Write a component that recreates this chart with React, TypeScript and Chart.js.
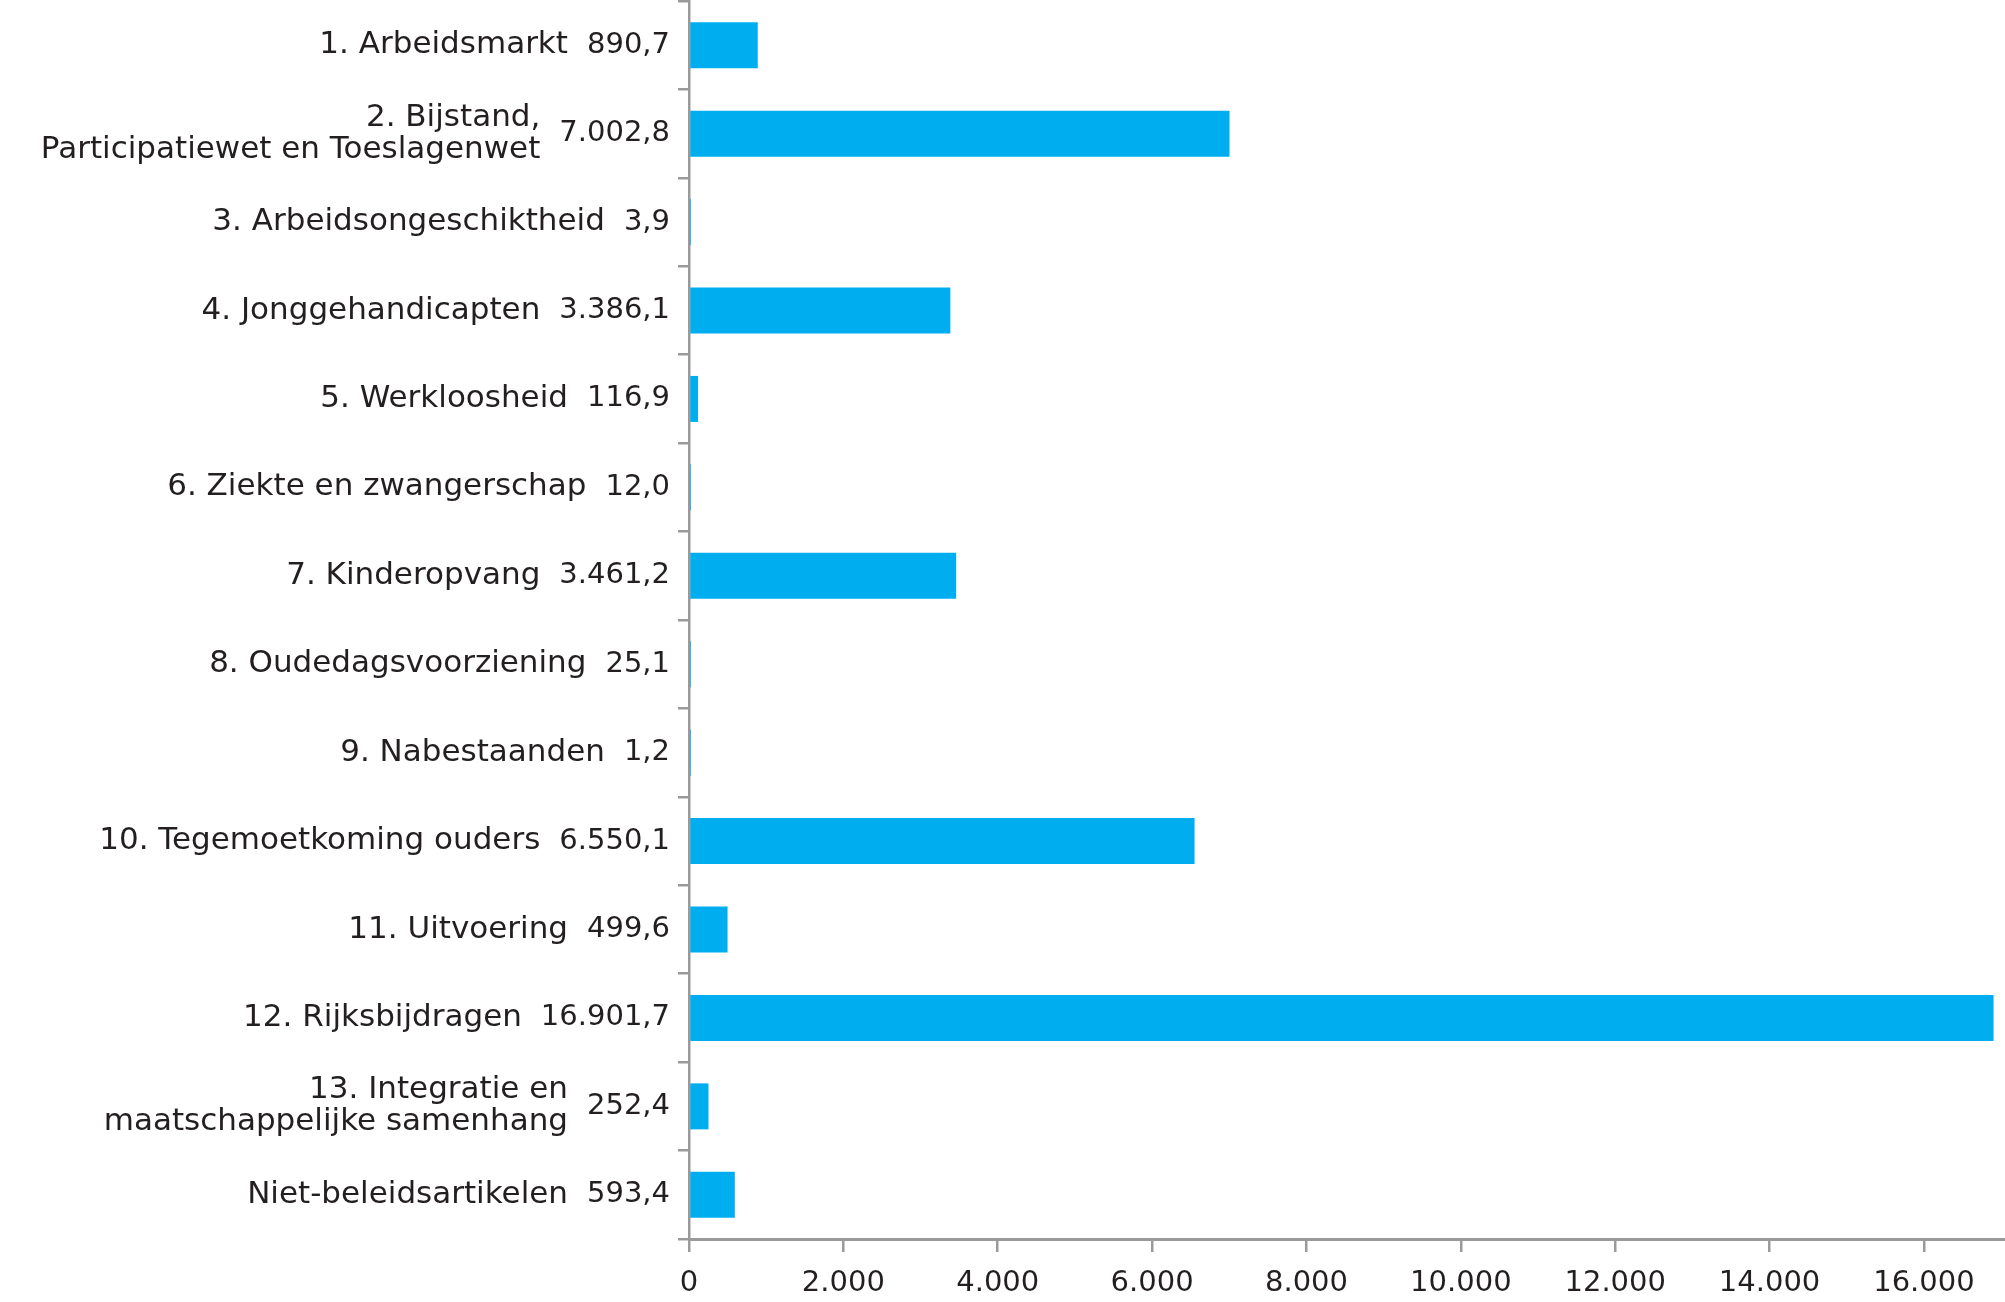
import React, { useEffect, useRef } from "react";
import { Chart, registerables } from "chart.js";

Chart.register(...registerables);

const categories: string[][] = [
  ["1. Arbeidsmarkt"],
  ["2. Bijstand,", "Participatiewet en Toeslagenwet"],
  ["3. Arbeidsongeschiktheid"],
  ["4. Jonggehandicapten"],
  ["5. Werkloosheid"],
  ["6. Ziekte en zwangerschap"],
  ["7. Kinderopvang"],
  ["8. Oudedagsvoorziening"],
  ["9. Nabestaanden"],
  ["10. Tegemoetkoming ouders"],
  ["11. Uitvoering"],
  ["12. Rijksbijdragen"],
  ["13. Integratie en", "maatschappelijke samenhang"],
  ["Niet-beleidsartikelen"],
];

const values: number[] = [
  890.7, 7002.8, 3.9, 3386.1, 116.9, 12.0, 3461.2, 25.1, 1.2, 6550.1, 499.6,
  16901.7, 252.4, 593.4,
];

const xTicks: number[] = [0, 2000, 4000, 6000, 8000, 10000, 12000, 14000, 16000];
const X_MAX = 17050;

const BAR_COLOR = "#00AEEF";
const TEXT_COLOR = "#231F20";
const AXIS_COLOR = "#9A9A9C";
const FONT = "'DejaVu Sans', sans-serif";

function thousands(intStr: string): string {
  let out = "";
  for (let i = 0; i < intStr.length; i++) {
    const fromEnd = intStr.length - i;
    out += intStr[i];
    if (fromEnd > 1 && (fromEnd - 1) % 3 === 0) out += ".";
  }
  return out;
}

function fmtValue(v: number): string {
  const [i, d] = v.toFixed(1).split(".");
  return thousands(i) + "," + d;
}

const labelPlugin = {
  id: "catLabels",
  afterDraw(chart: any) {
    const ctx = chart.ctx as CanvasRenderingContext2D;
    const y = chart.scales.y;
    const valueRight = chart.chartArea.left - 19;
    ctx.save();
    ctx.fillStyle = TEXT_COLOR;
    ctx.textBaseline = "middle";
    ctx.textAlign = "right";
    categories.forEach((lines, i) => {
      const cy = y.getPixelForValue(i);
      const vText = fmtValue(values[i]);
      ctx.font = `29px ${FONT}`;
      ctx.fillText(vText, valueRight, cy);
      const vw = ctx.measureText(vText).width;
      ctx.font = `31px ${FONT}`;
      const nameRight = valueRight - vw - 19;
      const lh = 32;
      lines.forEach((ln, j) => {
        ctx.fillText(ln, nameRight, cy + (j - (lines.length - 1) / 2) * lh);
      });
    });
    ctx.restore();
  },
};

export default function App() {
  const ref = useRef<HTMLCanvasElement | null>(null);

  useEffect(() => {
    if (!ref.current) return;
    const chart = new Chart(ref.current, {
      type: "bar",
      data: {
        labels: categories.map((c) => c.join(" ")),
        datasets: [
          {
            data: values,
            backgroundColor: BAR_COLOR,
            borderWidth: 0,
            barPercentage: 0.52,
            categoryPercentage: 1,
            minBarLength: 2,
          },
        ],
      },
      options: {
        indexAxis: "y",
        responsive: false,
        animation: false,
        layout: { padding: { top: 1, right: 0, left: 0, bottom: 0 } },
        plugins: {
          legend: { display: false },
          tooltip: { enabled: false },
        },
        scales: {
          x: {
            min: 0,
            max: X_MAX,
            afterBuildTicks: (scale: any) => {
              scale.ticks = xTicks.map((v) => ({ value: v }));
            },
            afterFit: (scale: any) => {
              scale.height = 63;
            },
            ticks: {
              includeBounds: false,
              color: TEXT_COLOR,
              font: { family: FONT, size: 29 },
              padding: 14,
              callback: (v: any) => thousands(String(Math.round(Number(v)))),
            },
            grid: {
              drawOnChartArea: false,
              drawTicks: true,
              tickLength: 13,
              color: AXIS_COLOR,
              lineWidth: 2.5,
            },
            border: { display: true, color: AXIS_COLOR, width: 3 },
          },
          y: {
            afterFit: (scale: any) => {
              scale.width = 689;
            },
            ticks: { display: false },
            grid: {
              offset: true,
              drawOnChartArea: false,
              drawTicks: true,
              tickLength: 11,
              color: AXIS_COLOR,
              lineWidth: 2.5,
            },
            border: { display: true, color: AXIS_COLOR, width: 2.5 },
          },
        },
      },
      plugins: [labelPlugin],
    });
    return () => chart.destroy();
  }, []);

  return (
    <div style={{ position: "absolute", left: 0, top: 0, width: 2005, height: 1302, background: "#fff" }}>
      <canvas ref={ref} width={2005} height={1302} style={{ display: "block" }} />
    </div>
  );
}
